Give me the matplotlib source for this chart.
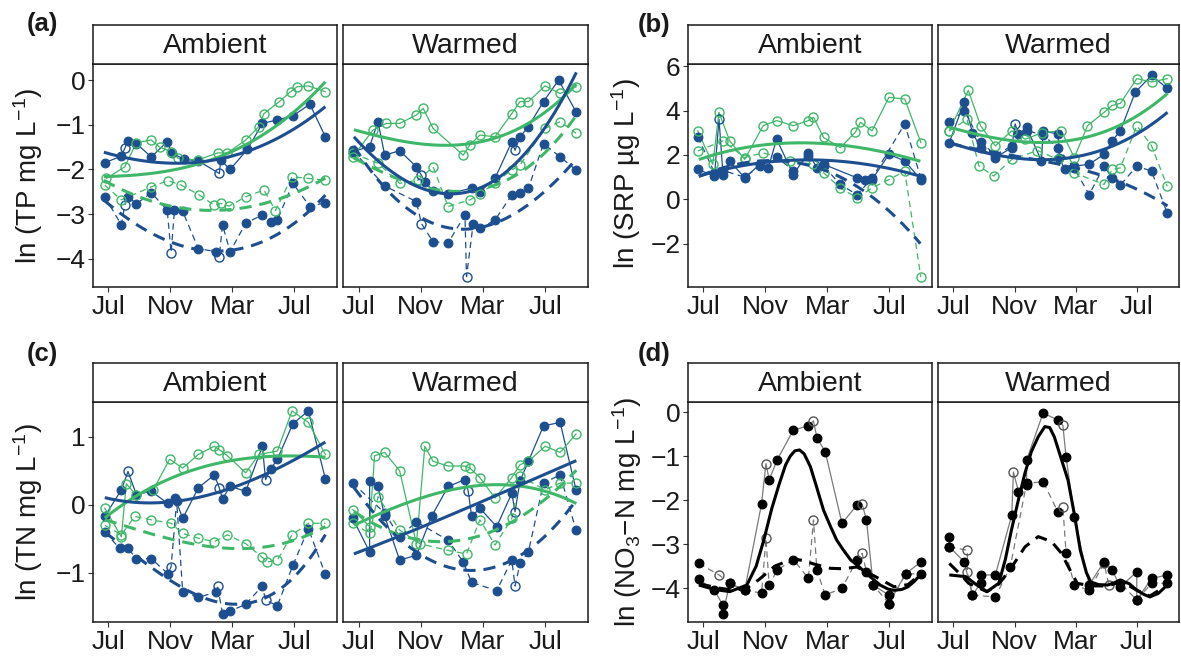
import numpy as np
import matplotlib.pyplot as plt

plt.rcParams['font.family'] = ['Liberation Sans', 'DejaVu Sans']
plt.rcParams['mathtext.fontset'] = 'custom'
plt.rcParams['mathtext.rm'] = 'Liberation Sans'
plt.rcParams['mathtext.it'] = 'Liberation Sans:italic'
plt.rcParams['mathtext.bf'] = 'Liberation Sans:bold'

BLUE = '#1d4e8f'
GREEN = '#3fb768'
GREY = '#7a7a7a'

# months since 1 July 2018
MONTH_TICKS = [0, 4, 8, 12]
MONTH_LABELS = ['Jul', 'Nov', 'Mar', 'Jul']

# ---------------- (a) TP ----------------
TP_AMB_BS_X = [-0.24, 0.83, 1.05, 1.26, 1.8, 2.76, 3.79, 4.09, 4.86, 5.8, 7.15, 7.25, 7.85, 8.97, 9.93, 10.9, 11.9, 13.0, 14.0]
TP_AMB_BS_Y = [-1.85, -1.70, -1.53, -1.36, -1.42, -1.72, -1.38, -1.63, -1.77, -1.81, -2.09, -1.79, -2.0, -1.55, -0.97, -0.89, -0.8, -0.54, -1.27]
TP_AMB_BS_H = [0, 0, 1, 0, 0, 0, 0, 0, 0, 0, 1, 0, 0, 0, 0, 0, 0, 0, 0]
TP_AMB_BD_X = [-0.24, 0.83, 1.05, 1.26, 1.8, 2.76, 3.79, 4.04, 4.26, 4.79, 5.8, 6.93, 7.15, 7.36, 7.85, 8.86, 9.93, 10.46, 10.9, 11.9, 13.0, 14.0]
TP_AMB_BD_Y = [-2.61, -3.24, -2.8, -2.61, -2.77, -2.52, -2.91, -3.86, -2.91, -2.94, -3.77, -3.84, -3.95, -3.24, -3.84, -3.2, -3.02, -3.18, -3.13, -2.31, -2.83, -2.74]
TP_AMB_BD_H = [0, 0, 1, 0, 0, 0, 0, 1, 0, 0, 0, 0, 1, 0, 0, 0, 0, 0, 0, 0, 0, 0]
TP_AMB_GS_X = [-0.13, 1.05, 1.8, 2.76, 3.3, 4.04, 4.5, 5.76, 7.04, 7.68, 8.86, 9.71, 10.03, 11.0, 11.75, 12.17, 12.9, 14.0]
TP_AMB_GS_Y = [-2.2, -1.94, -1.4, -1.34, -1.5, -1.6, -1.75, -1.79, -1.63, -1.63, -1.34, -1.04, -0.75, -0.49, -0.26, -0.15, -0.13, -0.26]
TP_AMB_GD_X = [-0.24, 0.83, 2.76, 3.83, 4.69, 5.86, 6.83, 7.25, 7.79, 8.86, 10.03, 10.78, 11.85, 12.9, 14.0]
TP_AMB_GD_Y = [-2.35, -2.68, -2.39, -2.25, -2.35, -2.57, -2.8, -2.76, -2.82, -2.61, -2.46, -2.92, -2.16, -2.2, -2.24]

TP_AMB_BS_FIT_X = [-0.3, 2, 4, 6, 8, 10, 12, 14]
TP_AMB_BS_FIT_Y = [-1.62, -1.78, -1.86, -1.84, -1.7, -1.45, -1.08, -0.6]
TP_AMB_BD_FIT_X = [-0.3, 2, 4, 6, 8, 10, 12, 14]
TP_AMB_BD_FIT_Y = [-2.7, -3.25, -3.6, -3.82, -3.85, -3.6, -3.15, -2.6]
TP_AMB_GS_FIT_X = [-0.3, 2, 4, 6, 8, 10, 12, 14]
TP_AMB_GS_FIT_Y = [-2.16, -2.12, -2.02, -1.85, -1.6, -1.22, -0.7, -0.04]
TP_AMB_GD_FIT_X = [-0.3, 2, 4, 6, 8, 10, 12, 14]
TP_AMB_GD_FIT_Y = [-2.25, -2.6, -2.82, -2.92, -2.9, -2.76, -2.52, -2.2]

TP_WRM_BS_X = [-0.37, 0.71, 1.25, 1.68, 2.64, 3.72, 4.04, 4.26, 4.79, 5.76, 7.27, 7.8, 8.77, 9.85, 10.06, 10.38, 10.92, 11.89, 12.86, 13.98]
TP_WRM_BS_Y = [-1.6, -1.49, -0.93, -1.68, -1.58, -1.94, -2.13, -2.27, -2.48, -2.54, -2.42, -2.5, -2.2, -1.38, -1.57, -1.27, -1.04, -0.48, 0.0, -0.71]
TP_WRM_BS_H = [0, 0, 0, 0, 0, 0, 1, 0, 0, 0, 0, 0, 0, 0, 1, 0, 0, 0, 0, 0]
TP_WRM_BD_X = [-0.37, 1.68, 3.72, 4.04, 4.79, 5.76, 6.84, 6.94, 7.37, 7.8, 8.77, 9.85, 10.38, 10.92, 11.89, 12.96, 13.98]
TP_WRM_BD_Y = [-1.57, -2.37, -2.72, -3.21, -3.62, -3.64, -3.02, -4.4, -3.21, -3.32, -3.13, -2.57, -2.52, -2.42, -1.42, -1.72, -2.01]
TP_WRM_BD_H = [0, 0, 0, 1, 0, 0, 0, 1, 0, 0, 0, 0, 0, 0, 0, 0, 0]
TP_WRM_GS_X = [-0.37, 0.92, 1.78, 2.64, 3.72, 4.15, 4.79, 6.73, 7.16, 7.8, 8.77, 9.85, 10.38, 10.92, 11.99, 12.96, 13.98]
TP_WRM_GS_Y = [-1.72, -1.12, -0.97, -0.97, -0.78, -0.63, -1.08, -1.68, -1.45, -1.23, -1.27, -0.75, -0.48, -0.48, -0.13, -0.3, -0.15]
TP_WRM_GD_X = [-0.37, 1.25, 2.64, 3.83, 4.79, 5.76, 7.16, 7.8, 8.77, 9.85, 10.38, 11.99, 12.96, 13.98]
TP_WRM_GD_Y = [-1.64, -1.86, -2.31, -2.24, -1.94, -2.83, -2.68, -2.55, -2.3, -2.01, -1.9, -1.08, -0.93, -1.19]

TP_WRM_BS_FIT_X = [-0.3, 1.9, 4.0, 5.8, 7.3, 9.85, 11.1, 12.4, 14.0]
TP_WRM_BS_FIT_Y = [-1.3, -1.94, -2.39, -2.55, -2.54, -2.01, -1.42, -0.75, 0.11]
TP_WRM_BD_FIT_X = [-0.3, 0.8, 3.0, 4.9, 7.3, 9.0, 10.3, 11.6, 14.0]
TP_WRM_BD_FIT_Y = [-1.6, -1.85, -2.83, -3.28, -3.4, -3.15, -2.9, -2.55, -1.8]
TP_WRM_GS_FIT_X = [-0.3, 3, 6.7, 10.6, 12.4, 14]
TP_WRM_GS_FIT_Y = [-1.12, -1.35, -1.47, -1.05, -0.55, -0.12]
TP_WRM_GD_FIT_X = [-0.3, 3, 6, 8.5, 11.6, 14]
TP_WRM_GD_FIT_Y = [-1.75, -2.25, -2.5, -2.4, -1.72, -0.8]

# ---------------- (b) SRP ----------------
SRP_AMB_BS_X = [-0.37, 0.71, 1.0, 1.26, 1.69, 2.66, 3.64, 4.18, 4.72, 5.8, 6.77, 7.32, 7.75, 9.91, 10.45, 10.88, 11.97, 12.99, 14.03]
SRP_AMB_BS_Y = [1.35, 1.05, 3.62, 1.12, 1.73, 0.97, 1.58, 1.42, 2.71, 1.12, 2.1, 1.42, 1.58, 0.97, 0.89, 0.89, 2.03, 1.73, 0.89]
SRP_AMB_BS_H = [0, 0, 1, 0, 0, 0, 0, 0, 0, 0, 0, 0, 0, 0, 0, 0, 0, 0, 0]
SRP_AMB_BD_X = [-0.37, 0.71, 1.26, 2.66, 3.64, 4.72, 5.8, 6.77, 7.75, 8.83, 9.91, 10.88, 12.99, 14.03]
SRP_AMB_BD_Y = [2.82, 1.2, 1.3, 1.0, 1.5, 1.9, 1.3, 1.95, 1.5, 0.67, 0.21, 0.95, 3.4, 0.95]
SRP_AMB_BD_H = [0] * 14
SRP_AMB_GS_X = [-0.37, 0.6, 1.0, 1.69, 2.66, 3.85, 4.72, 5.8, 6.77, 7.1, 7.75, 8.83, 9.8, 10.13, 10.88, 11.97, 12.99, 14.03]
SRP_AMB_GS_Y = [3.09, 1.58, 3.92, 2.64, 1.8, 3.32, 3.55, 3.32, 3.55, 3.7, 2.79, 2.33, 3.02, 3.47, 3.09, 4.6, 4.52, 2.56]
SRP_AMB_GD_X = [-0.37, 1.26, 2.66, 3.85, 5.58, 7.1, 7.75, 8.83, 9.91, 10.88, 11.97, 12.99, 14.03]
SRP_AMB_GD_Y = [2.18, 2.64, 1.88, 2.1, 1.73, 1.58, 1.2, 0.52, 0.06, 0.52, 0.89, 1.27, -3.5]

SRP_AMB_BS_FIT_X = [-0.3, 3, 6, 9, 12, 14]
SRP_AMB_BS_FIT_Y = [1.05, 1.55, 1.8, 1.7, 1.38, 1.05]
SRP_AMB_BD_FIT_X = [-0.3, 2, 5, 8.8, 11.8, 14]
SRP_AMB_BD_FIT_Y = [1.05, 1.5, 1.8, 0.97, -0.39, -2.0]
SRP_AMB_GS_FIT_X = [-0.3, 3, 6, 9, 12, 14]
SRP_AMB_GS_FIT_Y = [1.8, 2.35, 2.56, 2.45, 2.05, 1.73]

SRP_WRM_BS_X = [-0.26, 0.71, 1.25, 1.78, 2.75, 3.82, 4.04, 4.26, 4.79, 5.76, 5.87, 6.84, 6.94, 7.27, 7.91, 8.88, 9.85, 10.38, 10.92, 11.89, 12.96, 13.98]
SRP_WRM_BS_Y = [2.56, 4.38, 3.01, 2.33, 1.88, 2.33, 3.4, 2.94, 3.25, 1.73, 3.09, 2.94, 1.88, 1.35, 1.5, 1.58, 2.03, 2.64, 3.09, 4.83, 5.59, 5.0]
SRP_WRM_BS_H = [0, 0, 0, 0, 0, 0, 1, 0, 0, 0, 0, 0, 0, 0, 0, 0, 0, 0, 0, 0, 0, 0]
SRP_WRM_BD_X = [-0.26, 0.71, 1.78, 2.75, 3.82, 4.79, 5.87, 6.84, 7.91, 8.88, 9.85, 10.38, 10.92, 11.99, 12.96, 13.98]
SRP_WRM_BD_Y = [3.47, 4.0, 2.6, 2.0, 2.4, 3.1, 2.9, 2.3, 1.4, 0.21, 1.5, 0.97, 0.64, 1.5, 1.27, -0.62]
SRP_WRM_BD_H = [0] * 16
SRP_WRM_GS_X = [-0.26, 0.98, 1.78, 2.75, 3.82, 4.69, 5.8, 7.05, 7.91, 8.77, 9.85, 10.38, 10.92, 11.99, 12.96, 13.98]
SRP_WRM_GS_Y = [3.09, 4.91, 3.32, 2.41, 3.09, 2.71, 3.0, 3.09, 1.88, 3.32, 3.92, 4.23, 4.33, 5.44, 5.29, 5.44]
SRP_WRM_GD_X = [-0.26, 0.9, 1.68, 2.64, 3.82, 5.5, 6.84, 7.91, 9.85, 10.38, 10.92, 11.99, 12.96, 13.98]
SRP_WRM_GD_Y = [3.09, 3.6, 1.5, 1.05, 1.8, 2.2, 1.8, 1.2, 0.67, 1.35, 1.42, 3.32, 2.41, 0.59]

SRP_WRM_BS_FIT_X = [-0.26, 2.5, 5.1, 8, 11, 14]
SRP_WRM_BS_FIT_Y = [2.56, 2.05, 1.8, 1.9, 2.6, 3.92]
SRP_WRM_BD_FIT_X = [-0.26, 2.5, 5, 7.5, 10, 12, 14]
SRP_WRM_BD_FIT_Y = [2.56, 2.05, 1.85, 1.6, 1.0, 0.35, -0.24]
SRP_WRM_GS_FIT_X = [-0.26, 3, 6.8, 10, 14]
SRP_WRM_GS_FIT_Y = [3.25, 2.75, 2.56, 3.1, 4.77]

# ---------------- (c) TN ----------------
TN_AMB_BS_X = [-0.24, 0.83, 1.26, 1.8, 2.76, 3.83, 4.3, 4.79, 5.8, 6.83, 7.15, 7.36, 7.85, 8.86, 9.93, 10.14, 10.46, 10.9, 11.9, 12.9, 14.0]
TN_AMB_BS_Y = [-0.17, 0.22, 0.49, 0.15, 0.2, 0.02, 0.1, -0.2, 0.25, 0.44, 0.25, 0.09, 0.27, 0.2, 0.86, 0.37, 0.52, 0.67, 1.19, 1.38, 0.38]
TN_AMB_BS_H = [0, 0, 1, 0, 0, 0, 0, 0, 0, 0, 1, 0, 0, 0, 0, 1, 0, 0, 0, 0, 0]
TN_AMB_BD_X = [-0.24, 0.73, 1.26, 1.8, 2.76, 3.83, 4.04, 4.4, 4.79, 5.8, 6.93, 7.04, 7.36, 7.85, 8.86, 9.93, 10.14, 10.9, 11.9, 12.9, 14.0]
TN_AMB_BD_Y = [-0.4, -0.64, -0.64, -0.79, -0.79, -1.01, -0.91, 0.05, -1.28, -1.36, -1.28, -1.19, -1.6, -1.56, -1.46, -1.19, -1.4, -1.48, -0.89, -0.35, -1.02]
TN_AMB_BD_H = [0, 0, 0, 0, 0, 0, 1, 0, 0, 0, 0, 1, 0, 0, 0, 0, 1, 0, 0, 0, 0]
TN_AMB_GS_X = [-0.24, 0.83, 1.15, 1.8, 2.9, 3.94, 4.79, 5.8, 6.83, 7.15, 7.68, 8.86, 9.71, 10.9, 11.85, 12.9, 14.0]
TN_AMB_GS_Y = [-0.05, -0.47, 0.31, 0.14, 0.22, 0.67, 0.54, 0.74, 0.86, 0.81, 0.72, 0.47, 0.74, 0.79, 1.38, 1.21, 0.74]
TN_AMB_GD_X = [-0.24, 0.83, 1.69, 2.76, 4.04, 4.79, 5.8, 6.83, 7.68, 8.86, 9.93, 10.25, 10.9, 11.85, 12.9, 14.0]
TN_AMB_GD_Y = [-0.3, -0.44, -0.17, -0.22, -0.27, -0.42, -0.49, -0.54, -0.44, -0.57, -0.77, -0.84, -0.81, -0.44, -0.27, -0.27]

TN_AMB_BS_FIT_X = [-0.24, 2, 4, 8, 11, 14]
TN_AMB_BS_FIT_Y = [0.1, 0.05, 0.03, 0.25, 0.55, 0.92]
TN_AMB_BD_FIT_X = [-0.24, 2, 4.3, 8.5, 11.75, 14]
TN_AMB_BD_FIT_Y = [-0.4, -0.8, -1.14, -1.47, -1.1, -0.44]
TN_AMB_GS_FIT_X = [-0.24, 2, 4, 7, 9.6, 12, 14]
TN_AMB_GS_FIT_Y = [-0.19, 0.15, 0.4, 0.6, 0.7, 0.72, 0.7]
TN_AMB_GD_FIT_X = [-0.24, 1.0, 4.0, 6.0, 9.0, 11.5, 14]
TN_AMB_GD_FIT_Y = [-0.22, -0.3, -0.5, -0.6, -0.64, -0.55, -0.32]

TN_WRM_BS_X = [-0.37, 0.71, 0.71, 1.25, 1.68, 2.64, 3.72, 4.69, 5.76, 6.84, 7.05, 7.27, 7.8, 8.88, 9.85, 10.06, 10.38, 10.92, 11.89, 12.96, 13.98]
TN_WRM_BS_Y = [-0.2, -0.69, 0.35, 0.27, -0.17, -0.81, -0.74, -0.17, 0.27, 0.37, 0.2, -0.17, -0.05, -0.32, 0.17, -0.1, 0.35, 0.64, 1.16, 1.21, 0.22]
TN_WRM_BS_H = [0, 0, 0, 0, 0, 0, 0, 0, 0, 0, 1, 0, 0, 0, 0, 1, 0, 0, 0, 0, 0]
TN_WRM_BD_X = [-0.37, 1.68, 2.64, 3.72, 5.76, 6.73, 7.27, 8.88, 9.85, 10.06, 10.38, 10.92, 11.89, 12.96, 13.98]
TN_WRM_BD_Y = [0.32, -0.12, -0.47, -0.25, -0.52, -0.84, -1.14, -1.26, -0.81, -1.19, -0.86, -0.69, 0.32, 0.44, -0.37]
TN_WRM_BD_H = [0, 0, 0, 0, 0, 0, 0, 0, 0, 1, 0, 0, 0, 0, 0]
TN_WRM_GS_X = [-0.37, 0.71, 1.03, 1.68, 2.64, 3.72, 4.26, 4.79, 5.76, 6.84, 7.16, 7.8, 8.77, 9.85, 10.38, 10.92, 11.99, 12.96, 13.98]
TN_WRM_GS_Y = [-0.07, -0.32, 0.72, 0.77, 0.5, -0.57, 0.86, 0.64, 0.57, 0.57, 0.54, 0.4, 0.1, 0.4, 0.59, 0.64, 0.86, 0.77, 1.04]
TN_WRM_GD_X = [-0.37, 0.71, 1.25, 2.64, 3.94, 5.76, 6.94, 7.8, 8.77, 9.85, 10.38, 11.99, 12.96, 13.98]
TN_WRM_GD_Y = [-0.27, -0.42, 0.12, -0.37, -0.57, -0.67, -0.72, -0.22, -0.59, -0.2, 0.42, 0.22, 0.32, 0.32]

TN_WRM_BS_FIT_X = [-0.3, 3.5, 7, 10.5, 14]
TN_WRM_BS_FIT_Y = [-0.72, -0.38, -0.04, 0.3, 0.65]
TN_WRM_BD_FIT_X = [-0.3, 3, 6.5, 9, 11.5, 14]
TN_WRM_BD_FIT_Y = [0.25, -0.55, -0.95, -0.95, -0.5, 0.05]
TN_WRM_GS_FIT_X = [-0.3, 3, 6, 8.6, 11, 14]
TN_WRM_GS_FIT_Y = [-0.3, 0.02, 0.22, 0.3, 0.25, 0.02]
TN_WRM_GD_FIT_X = [-0.3, 3, 6, 9.5, 12, 14]
TN_WRM_GD_FIT_Y = [-0.1, -0.45, -0.55, -0.3, 0.1, 0.5]

# ---------------- (d) NO3-N ----------------
NO3_AMB_S_X = [-0.3, 0.71, 1.26, 1.26, 1.69, 2.66, 3.75, 4.03, 4.24, 4.76, 5.8, 6.77, 7.1, 7.32, 7.86, 8.94, 9.91, 10.24, 10.52, 10.95, 11.97, 11.97, 13.05, 14.07]
NO3_AMB_S_Y = [-3.8, -4.05, -4.39, -4.58, -3.89, -4.05, -2.08, -1.17, -1.54, -1.08, -0.41, -0.31, -0.2, -0.58, -0.9, -2.53, -2.11, -2.09, -2.45, -3.93, -4.16, -4.35, -3.67, -3.4]
NO3_AMB_S_H = [0, 0, 0, 0, 0, 0, 0, 1, 0, 0, 0, 0, 1, 0, 0, 0, 0, 1, 0, 0, 0, 0, 0, 0]
NO3_AMB_D_X = [-0.3, 1.0, 1.69, 2.66, 3.75, 4.03, 4.24, 4.76, 5.8, 6.77, 7.1, 7.32, 7.86, 8.94, 9.91, 10.24, 10.52, 10.95, 11.97, 13.05, 14.07]
NO3_AMB_D_Y = [-3.44, -3.7, -3.89, -4.05, -4.11, -2.87, -3.93, -3.59, -3.35, -3.78, -2.45, -3.59, -4.16, -4.0, -3.36, -3.21, -3.63, -3.93, -4.35, -3.68, -3.67]
NO3_AMB_D_H = [0, 1, 0, 0, 0, 1, 0, 0, 0, 0, 1, 0, 0, 0, 0, 1, 0, 0, 0, 0, 0]

NO3_AMB_S_FIT_X = [-0.3, 0.7, 1.7, 2.8, 3.4, 3.9, 4.4, 4.9, 5.3, 5.6, 5.9, 6.2, 6.5, 6.9, 7.3, 7.75, 8.2, 8.6, 9.0, 9.5, 10.0, 10.4, 10.9, 11.4, 11.9, 12.3, 12.8, 13.2, 13.6, 14.07]
NO3_AMB_S_FIT_Y = [-3.93, -4.03, -4.08, -3.93, -3.5, -2.9, -2.2, -1.62, -1.2, -1.0, -0.88, -0.86, -0.95, -1.24, -1.7, -2.23, -2.6, -2.91, -3.12, -3.36, -3.5, -3.63, -3.78, -3.93, -4.02, -4.05, -4.03, -3.97, -3.85, -3.67]
NO3_AMB_D_FIT_X = [-0.3, 1, 2, 2.8, 3.6, 4.6, 5.8, 6.5, 7.1, 8.2, 9.0, 9.9, 11, 12.3, 13.2, 14.07]
NO3_AMB_D_FIT_Y = [-3.9, -4.0, -4.05, -4.0, -3.8, -3.5, -3.33, -3.38, -3.45, -3.55, -3.56, -3.52, -3.72, -3.97, -3.92, -3.67]

NO3_WRM_S_X = [-0.26, -0.26, 0.71, 1.25, 1.78, 1.78, 2.75, 3.82, 3.93, 4.26, 4.79, 4.79, 5.87, 6.84, 7.16, 7.37, 7.91, 8.88, 9.85, 10.38, 10.92, 11.99, 11.99, 12.96, 13.98]
NO3_WRM_S_Y = [-2.83, -3.06, -3.4, -4.16, -3.89, -3.7, -3.7, -2.34, -1.36, -1.81, -1.66, -1.09, -0.02, -0.18, -0.3, -1.02, -2.38, -3.93, -3.4, -3.59, -3.97, -3.63, -4.27, -3.78, -3.7]
NO3_WRM_S_H = [0, 0, 0, 0, 0, 0, 0, 0, 1, 0, 0, 0, 0, 0, 1, 0, 0, 0, 0, 0, 0, 0, 0, 0, 0]
NO3_WRM_D_X = [-0.26, 0.92, 0.92, 1.25, 2.75, 3.72, 4.79, 5.87, 6.84, 7.16, 7.37, 7.91, 8.88, 9.85, 10.17, 10.92, 11.99, 12.96, 13.98]
NO3_WRM_D_Y = [-3.06, -3.14, -3.63, -4.16, -4.2, -3.52, -1.62, -1.58, -2.27, -2.15, -3.2, -3.93, -4.05, -3.44, -3.93, -3.89, -4.27, -3.89, -3.89]
NO3_WRM_D_H = [0, 1, 1, 0, 0, 0, 0, 0, 0, 1, 0, 0, 0, 1, 1, 0, 0, 0, 0]

NO3_WRM_S_FIT_X = [-0.26, 0.82, 1.5, 2.2, 2.97, 3.4, 3.8, 4.25, 4.68, 5.1, 5.55, 5.98, 6.3, 6.6, 7.0, 7.5, 7.9, 8.3, 8.7, 8.98, 9.5, 10.1, 10.5, 10.9, 11.5, 12.0, 12.5, 12.85, 13.4, 13.98]
NO3_WRM_S_FIT_Y = [-3.7, -3.74, -3.92, -4.08, -3.89, -3.35, -2.68, -2.0, -1.39, -0.9, -0.56, -0.33, -0.35, -0.56, -1.0, -1.55, -2.3, -3.14, -3.65, -3.86, -3.92, -3.93, -3.88, -3.82, -3.9, -4.05, -4.15, -4.2, -4.12, -3.93]
NO3_WRM_D_FIT_X = [-0.26, 0.5, 1.0, 2.2, 3.0, 3.82, 4.69, 5.55, 6.41, 7.05, 7.69, 8.1, 8.98, 10.1, 11.0, 12.0, 12.85, 13.98]
NO3_WRM_D_FIT_Y = [-3.44, -3.7, -3.89, -4.08, -3.9, -3.52, -3.06, -2.83, -2.94, -3.2, -3.63, -3.89, -3.95, -3.95, -3.85, -4.05, -4.18, -3.93]

W, H = 1181, 659


def rect(x0, x1, y0, y1):
    return [x0 / W, 1 - y1 / H, (x1 - x0) / W, (y1 - y0) / H]


def data_line(ax, x, y, color, dashed, hollow, edge=None, line_color=None):
    x = np.asarray(x)
    y = np.asarray(y)
    hollow = np.asarray(hollow, dtype=bool)
    lc = line_color or color
    if dashed:
        ax.plot(x, y, color=lc, lw=0.9, dashes=(5, 3.5), zorder=2)
    else:
        ax.plot(x, y, color=lc, lw=0.9, zorder=2)
    ax.plot(x[~hollow], y[~hollow], 'o', ms=6.3, mfc=color, mec=color, mew=0.8, zorder=3)
    ax.plot(x[hollow], y[hollow], 'o', ms=6.5, mfc='none', mec=edge or color, mew=1.0, zorder=3)


def fit_line(ax, kx, ky, color, dashed, deg=3, smooth=True):
    if smooth:
        coef = np.polyfit(kx, ky, deg)
        xs = np.linspace(min(kx), max(kx), 200)
        ys = np.polyval(coef, xs)
    else:
        xs, ys = kx, ky
    kw = dict(color=color, lw=2.2, zorder=4, solid_capstyle='butt')
    if dashed:
        ax.plot(xs, ys, dashes=(4, 2.6), **kw)
    else:
        ax.plot(xs, ys, **kw)


def style_axis(ax, ylim, yticks, show_y):
    ax.set_xlim(-1.0, 14.75)
    ax.set_ylim(*ylim)
    ax.set_xticks(MONTH_TICKS)
    ax.set_xticklabels(MONTH_LABELS)
    ax.set_yticks(yticks)
    ax.set_yticklabels([str(t).replace('-', '\u2212') for t in yticks])
    ax.tick_params(axis='both', direction='out', length=3.5, width=0.8,
                   color='#333333', labelsize=19, labelcolor='#1a1a1a', pad=2)
    if not show_y:
        ax.tick_params(axis='y', left=False, labelleft=False)
    for s in ax.spines.values():
        s.set_color('#1a1a1a')
        s.set_linewidth(1.1)


def strip(fig, x0, x1, y0, y1, label):
    sax = fig.add_axes(rect(x0, x1, y0, y1))
    sax.set_xticks([])
    sax.set_yticks([])
    for s in sax.spines.values():
        s.set_color('#1a1a1a')
        s.set_linewidth(1.1)
    sax.text(0.5, 0.47, label, ha='center', va='center', fontsize=20.5,
             color='#1a1a1a', transform=sax.transAxes)


def green_blue_facet(ax, bs, bd, gs, gd, fits):
    data_line(ax, bd[0], bd[1], BLUE, True, bd[2])
    data_line(ax, bs[0], bs[1], BLUE, False, bs[2])
    data_line(ax, gd[0], gd[1], GREEN, True, [1] * len(gd[0]))
    data_line(ax, gs[0], gs[1], GREEN, False, [1] * len(gs[0]))
    for kx, ky, color, dashed in fits:
        fit_line(ax, kx, ky, color, dashed)


fig = plt.figure(figsize=(W / 100, H / 100), dpi=100)
fig.patch.set_facecolor('white')

top = (64, 287)
bot = (402, 622)

# (a) TP
ax = fig.add_axes(rect(93, 337, *top))
green_blue_facet(ax,
                 (TP_AMB_BS_X, TP_AMB_BS_Y, TP_AMB_BS_H),
                 (TP_AMB_BD_X, TP_AMB_BD_Y, TP_AMB_BD_H),
                 (TP_AMB_GS_X, TP_AMB_GS_Y),
                 (TP_AMB_GD_X, TP_AMB_GD_Y),
                 [(TP_AMB_GD_FIT_X, TP_AMB_GD_FIT_Y, GREEN, True),
                  (TP_AMB_BD_FIT_X, TP_AMB_BD_FIT_Y, BLUE, True),
                  (TP_AMB_GS_FIT_X, TP_AMB_GS_FIT_Y, GREEN, False),
                  (TP_AMB_BS_FIT_X, TP_AMB_BS_FIT_Y, BLUE, False)])
style_axis(ax, (-4.63, 0.36), [-4, -3, -2, -1, 0], True)
ax = fig.add_axes(rect(343, 588, *top))
green_blue_facet(ax,
                 (TP_WRM_BS_X, TP_WRM_BS_Y, TP_WRM_BS_H),
                 (TP_WRM_BD_X, TP_WRM_BD_Y, TP_WRM_BD_H),
                 (TP_WRM_GS_X, TP_WRM_GS_Y),
                 (TP_WRM_GD_X, TP_WRM_GD_Y),
                 [(TP_WRM_GD_FIT_X, TP_WRM_GD_FIT_Y, GREEN, True),
                  (TP_WRM_BD_FIT_X, TP_WRM_BD_FIT_Y, BLUE, True),
                  (TP_WRM_GS_FIT_X, TP_WRM_GS_FIT_Y, GREEN, False),
                  (TP_WRM_BS_FIT_X, TP_WRM_BS_FIT_Y, BLUE, False)])
style_axis(ax, (-4.63, 0.36), [-4, -3, -2, -1, 0], False)

# (b) SRP
ax = fig.add_axes(rect(688, 932, *top))
green_blue_facet(ax,
                 (SRP_AMB_BS_X, SRP_AMB_BS_Y, SRP_AMB_BS_H),
                 (SRP_AMB_BD_X, SRP_AMB_BD_Y, SRP_AMB_BD_H),
                 (SRP_AMB_GS_X, SRP_AMB_GS_Y),
                 (SRP_AMB_GD_X, SRP_AMB_GD_Y),
                 [(SRP_AMB_BD_FIT_X, SRP_AMB_BD_FIT_Y, BLUE, True),
                  (SRP_AMB_GS_FIT_X, SRP_AMB_GS_FIT_Y, GREEN, False),
                  (SRP_AMB_BS_FIT_X, SRP_AMB_BS_FIT_Y, BLUE, False)])
style_axis(ax, (-3.95, 6.1), [-2, 0, 2, 4, 6], True)
ax = fig.add_axes(rect(938, 1179, *top))
green_blue_facet(ax,
                 (SRP_WRM_BS_X, SRP_WRM_BS_Y, SRP_WRM_BS_H),
                 (SRP_WRM_BD_X, SRP_WRM_BD_Y, SRP_WRM_BD_H),
                 (SRP_WRM_GS_X, SRP_WRM_GS_Y),
                 (SRP_WRM_GD_X, SRP_WRM_GD_Y),
                 [(SRP_WRM_BD_FIT_X, SRP_WRM_BD_FIT_Y, BLUE, True),
                  (SRP_WRM_GS_FIT_X, SRP_WRM_GS_FIT_Y, GREEN, False),
                  (SRP_WRM_BS_FIT_X, SRP_WRM_BS_FIT_Y, BLUE, False)])
style_axis(ax, (-3.95, 6.1), [-2, 0, 2, 4, 6], False)

# (c) TN
ax = fig.add_axes(rect(93, 337, *bot))
green_blue_facet(ax,
                 (TN_AMB_BS_X, TN_AMB_BS_Y, TN_AMB_BS_H),
                 (TN_AMB_BD_X, TN_AMB_BD_Y, TN_AMB_BD_H),
                 (TN_AMB_GS_X, TN_AMB_GS_Y),
                 (TN_AMB_GD_X, TN_AMB_GD_Y),
                 [(TN_AMB_GD_FIT_X, TN_AMB_GD_FIT_Y, GREEN, True),
                  (TN_AMB_BD_FIT_X, TN_AMB_BD_FIT_Y, BLUE, True),
                  (TN_AMB_GS_FIT_X, TN_AMB_GS_FIT_Y, GREEN, False),
                  (TN_AMB_BS_FIT_X, TN_AMB_BS_FIT_Y, BLUE, False)])
style_axis(ax, (-1.72, 1.51), [-1, 0, 1], True)
ax = fig.add_axes(rect(343, 588, *bot))
green_blue_facet(ax,
                 (TN_WRM_BS_X, TN_WRM_BS_Y, TN_WRM_BS_H),
                 (TN_WRM_BD_X, TN_WRM_BD_Y, TN_WRM_BD_H),
                 (TN_WRM_GS_X, TN_WRM_GS_Y),
                 (TN_WRM_GD_X, TN_WRM_GD_Y),
                 [(TN_WRM_GD_FIT_X, TN_WRM_GD_FIT_Y, GREEN, True),
                  (TN_WRM_BD_FIT_X, TN_WRM_BD_FIT_Y, BLUE, True),
                  (TN_WRM_GS_FIT_X, TN_WRM_GS_FIT_Y, GREEN, False),
                  (TN_WRM_BS_FIT_X, TN_WRM_BS_FIT_Y, BLUE, False)])
style_axis(ax, (-1.72, 1.51), [-1, 0, 1], False)

# (d) NO3-N, black and grey
for (x0, x1), s, d, sfit, dfit, show in [
        ((688, 932), (NO3_AMB_S_X, NO3_AMB_S_Y, NO3_AMB_S_H), (NO3_AMB_D_X, NO3_AMB_D_Y, NO3_AMB_D_H),
         (NO3_AMB_S_FIT_X, NO3_AMB_S_FIT_Y), (NO3_AMB_D_FIT_X, NO3_AMB_D_FIT_Y), True),
        ((938, 1179), (NO3_WRM_S_X, NO3_WRM_S_Y, NO3_WRM_S_H), (NO3_WRM_D_X, NO3_WRM_D_Y, NO3_WRM_D_H),
         (NO3_WRM_S_FIT_X, NO3_WRM_S_FIT_Y), (NO3_WRM_D_FIT_X, NO3_WRM_D_FIT_Y), False)]:
    ax = fig.add_axes(rect(x0, x1, *bot))
    data_line(ax, d[0], d[1], 'black', True, d[2], edge='#555555', line_color=GREY)
    data_line(ax, s[0], s[1], 'black', False, s[2], edge='#555555', line_color=GREY)
    fit_line(ax, dfit[0], dfit[1], 'black', True, smooth=False)
    fit_line(ax, sfit[0], sfit[1], 'black', False, smooth=False)
    style_axis(ax, (-4.77, 0.23), [-4, -3, -2, -1, 0], show)

# facet strips
for y0, y1 in [(25, 64), (363, 402)]:
    for x0, x1 in [(93, 337), (688, 932)]:
        strip(fig, x0, x1, y0, y1, 'Ambient')
    for x0, x1 in [(343, 588), (938, 1179)]:
        strip(fig, x0, x1, y0, y1, 'Warmed')

# y axis titles
ylab = dict(rotation=90, ha='center', va='center', fontsize=20, color='#1a1a1a')
fig.text(28 / W, 1 - 176 / H, r'ln (TP mg L$^{-1}$)', **ylab)
fig.text(626 / W, 1 - 174 / H, r'ln (SRP µg L$^{-1}$)', **ylab)
fig.text(28 / W, 1 - 512 / H, r'ln (TN mg L$^{-1}$)', **ylab)
fig.text(627 / W, 1 - 512 / H, r'ln (NO$_3$$-$N mg L$^{-1}$)', **ylab)

# panel tags
tag = dict(ha='center', va='center', fontsize=18.5, fontweight='bold', color='#1a1a1a')
fig.text(42 / W, 1 - 24 / H, '(a)', **tag)
fig.text(654 / W, 1 - 25 / H, '(b)', **tag)
fig.text(42 / W, 1 - 354 / H, '(c)', **tag)
fig.text(654 / W, 1 - 354 / H, '(d)', **tag)

fig.savefig('out.png', dpi=100, facecolor='white')
